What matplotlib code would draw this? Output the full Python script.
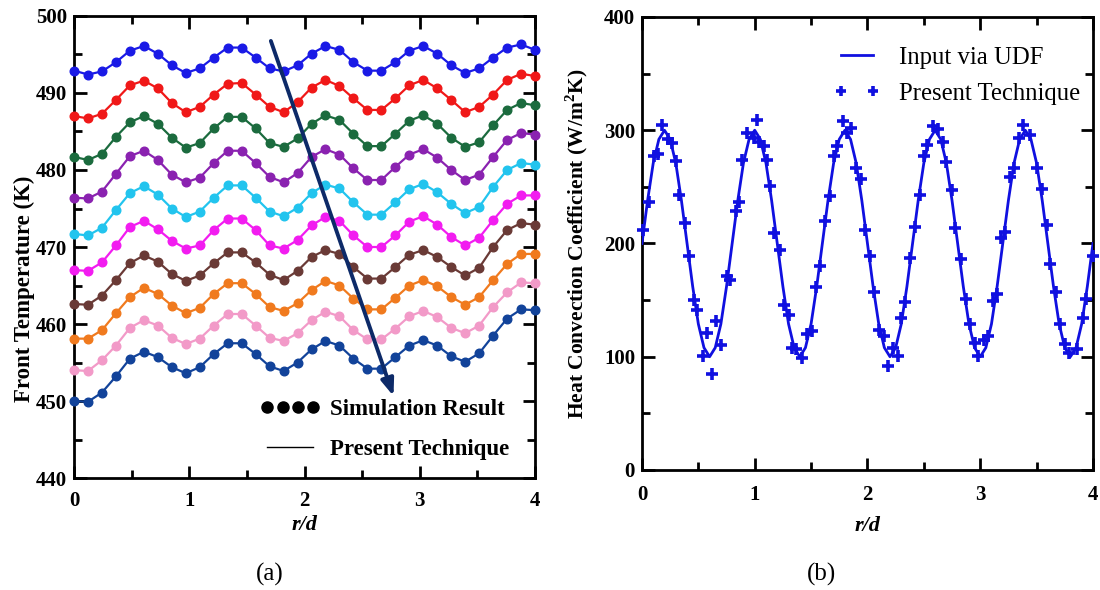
import numpy as np
import matplotlib
matplotlib.use("Agg")
import matplotlib.pyplot as plt
from matplotlib.lines import Line2D
from matplotlib.ticker import MultipleLocator

plt.rcParams["font.family"] = ["Liberation Serif", "DejaVu Serif"]
plt.rcParams["mathtext.fontset"] = "custom"
plt.rcParams["mathtext.rm"] = "Liberation Serif:bold"
plt.rcParams["mathtext.bf"] = "Liberation Serif:bold"

# ---------------- (a) front temperature profiles ----------------
r_sim = np.linspace(0, 4, 34)

temp_curves = [
    [492.9, 492.4, 492.8, 494.0, 495.5, 496.1, 495.1, 493.6, 492.6, 493.2, 494.6, 495.9, 495.9, 494.6, 493.2, 492.8, 493.6,
     495.1, 496.1, 495.6, 494.0, 492.9, 492.9, 494.0, 495.5, 496.1, 495.1, 493.6, 492.6, 493.2, 494.6, 495.9, 496.3, 495.6],
    [487.0, 486.7, 487.3, 489.1, 491.0, 491.6, 490.6, 488.7, 487.5, 488.2, 489.8, 491.2, 491.3, 489.8, 488.2, 487.5, 488.8,
     490.7, 491.7, 490.9, 489.3, 487.8, 487.8, 489.3, 491.0, 491.7, 490.6, 489.1, 487.5, 488.2, 489.8, 491.7, 492.5, 492.2],
    [481.7, 481.3, 482.1, 484.3, 486.2, 487.0, 486.0, 484.2, 482.9, 483.5, 485.4, 486.9, 486.9, 485.4, 483.5, 483.0, 484.1,
     486.0, 487.1, 486.5, 484.7, 483.1, 483.1, 484.7, 486.4, 487.1, 486.0, 484.2, 483.0, 483.6, 485.8, 487.8, 488.7, 488.4],
    [476.4, 476.3, 477.2, 479.5, 481.8, 482.5, 481.3, 479.4, 478.4, 479.0, 480.9, 482.5, 482.5, 480.9, 479.1, 478.4, 479.6,
     481.7, 482.7, 482.0, 480.2, 478.7, 478.7, 480.4, 482.0, 482.7, 481.6, 480.0, 478.7, 479.4, 481.7, 483.9, 484.8, 484.6],
    [471.7, 471.5, 472.5, 474.8, 477.0, 477.9, 476.8, 475.0, 473.9, 474.6, 476.4, 478.0, 478.0, 476.4, 474.6, 474.0, 475.1,
     477.0, 478.1, 477.6, 475.8, 474.2, 474.2, 475.8, 477.5, 478.2, 477.1, 475.6, 474.4, 475.2, 477.8, 480.0, 480.9, 480.7],
    [467.0, 466.9, 468.0, 470.2, 472.6, 473.4, 472.3, 470.8, 469.8, 470.2, 472.2, 473.7, 473.7, 472.2, 470.2, 469.8, 470.9,
     472.8, 473.9, 473.4, 471.5, 470.0, 470.0, 471.5, 473.3, 474.0, 472.9, 471.3, 470.2, 471.2, 473.5, 475.6, 476.7, 476.7],
    [462.6, 462.5, 463.7, 465.7, 467.9, 468.9, 468.1, 466.5, 465.6, 466.3, 467.9, 469.3, 469.3, 468.0, 466.4, 465.7, 466.9,
     468.7, 469.6, 469.1, 467.4, 465.9, 465.9, 467.4, 469.0, 469.6, 468.7, 467.4, 466.3, 467.3, 470.0, 472.2, 473.1, 472.9],
    [458.1, 458.1, 459.2, 461.4, 463.5, 464.7, 463.9, 462.4, 461.4, 462.1, 463.9, 465.3, 465.3, 463.9, 462.2, 461.7, 462.7,
     464.4, 465.6, 465.0, 463.3, 461.9, 461.9, 463.4, 465.0, 465.7, 464.9, 463.5, 462.5, 463.5, 465.7, 467.8, 469.1, 469.1],
    [454.0, 453.9, 455.3, 457.2, 459.5, 460.5, 459.8, 458.2, 457.4, 458.1, 459.8, 461.3, 461.3, 459.8, 458.2, 457.8, 458.8,
     460.5, 461.6, 461.0, 459.2, 458.0, 458.0, 459.4, 461.0, 461.7, 460.9, 459.5, 458.8, 459.8, 462.2, 464.1, 465.4, 465.3],
    [450.0, 449.9, 451.1, 453.2, 455.5, 456.4, 455.7, 454.4, 453.6, 454.4, 456.1, 457.5, 457.5, 456.1, 454.5, 453.9, 455.0,
     456.7, 457.8, 457.2, 455.5, 454.2, 454.2, 455.7, 457.2, 457.9, 457.2, 455.8, 455.1, 456.2, 458.5, 460.7, 461.9, 461.8],
]
curve_colors = ["#1a1ae6", "#f01818", "#1b6b3e", "#8a22b0", "#22c4ee",
                "#f21cf0", "#6a3a36", "#f07a1e", "#f29ac8", "#12439a"]

# ---------------- (b) heat convection coefficient ----------------
r_udf = np.linspace(0, 4, 81)
h_udf = [200, 238, 271, 292, 300, 292, 271, 238, 200, 162, 129, 108, 100, 108, 129, 162,
         200, 238, 271, 292, 300, 292, 271, 238, 200, 162, 129, 108, 100, 108, 129, 162,
         200, 238, 271, 292, 300, 292, 271, 238, 200, 162, 129, 108, 100, 108, 129, 162,
         200, 238, 271, 292, 300, 292, 271, 238, 200, 162, 129, 108, 100, 108, 129, 162,
         200, 238, 271, 292, 300, 292, 271, 238, 200, 162, 129, 108, 100, 108, 129, 162,
         200]

r_est = [0.01, 0.06, 0.11, 0.14, 0.18, 0.23, 0.27, 0.30, 0.33, 0.38, 0.42, 0.46, 0.49, 0.54, 0.58,
         0.62, 0.66, 0.70, 0.75, 0.78, 0.83, 0.86, 0.89, 0.93, 0.99, 1.02, 1.04, 1.08, 1.11, 1.14,
         1.17, 1.22, 1.26, 1.30, 1.33, 1.37, 1.42, 1.46, 1.51, 1.54, 1.58, 1.62, 1.67, 1.70, 1.73,
         1.78, 1.82, 1.85, 1.90, 1.94, 1.98, 2.02, 2.06, 2.10, 2.15, 2.18, 2.23, 2.27, 2.30, 2.33,
         2.38, 2.42, 2.47, 2.50, 2.53, 2.58, 2.63, 2.67, 2.70, 2.75, 2.78, 2.83, 2.87, 2.91, 2.95,
         2.98, 3.03, 3.07, 3.11, 3.15, 3.18, 3.22, 3.26, 3.30, 3.34, 3.38, 3.44, 3.50, 3.55, 3.59,
         3.62, 3.67, 3.71, 3.75, 3.79, 3.86, 3.91, 3.94, 4.00]
h_est = [212, 237, 277, 279, 305, 292, 289, 273, 243, 218, 189, 150, 141, 101, 121,
         85, 132, 110, 171, 168, 229, 237, 274, 298, 293, 309, 290, 286, 274, 251,
         209, 194, 146, 137, 108, 107, 99, 120, 123, 162, 180, 220, 242, 277, 286,
         308, 298, 302, 267, 257, 212, 189, 157, 124, 118, 92, 108, 101, 134, 148,
         187, 215, 243, 277, 287, 304, 301, 290, 272, 247, 214, 186, 151, 129, 112,
         101, 115, 118, 149, 155, 205, 210, 259, 267, 293, 305, 296, 267, 248, 216,
         182, 157, 129, 111, 103, 107, 134, 151, 189]

fig = plt.figure(figsize=(11, 5.9), dpi=100)
ax1 = fig.add_axes([0.0673, 0.1898, 0.4191, 0.7831])
ax2 = fig.add_axes([0.5836, 0.2034, 0.4100, 0.7678])


def style_axes(ax, pad):
    for s in ax.spines.values():
        s.set_linewidth(2)
    ax.tick_params(which="both", direction="in", top=True, right=True, width=2)
    ax.tick_params(axis="y", pad=5)
    ax.tick_params(axis="x", pad=pad)
    ax.tick_params(which="major", length=9)
    ax.tick_params(which="minor", length=6)
    for lab in ax.get_xticklabels() + ax.get_yticklabels():
        lab.set_fontsize(15)
        lab.set_fontweight("bold")


# panel (a)
for vals, col in zip(temp_curves, curve_colors):
    ax1.plot(r_sim, vals, "-", color=col, lw=1.6, marker="o", ms=6.2, mec=col, mfc=col, clip_on=False, zorder=3)

ax1.set_xlim(0, 4)
ax1.set_ylim(440, 500)
ax1.xaxis.set_major_locator(MultipleLocator(1))
ax1.xaxis.set_minor_locator(MultipleLocator(0.5))
ax1.yaxis.set_major_locator(MultipleLocator(10))
ax1.yaxis.set_minor_locator(MultipleLocator(5))
style_axes(ax1, pad=9)
ax1.set_xlabel("r/d", fontsize=16, fontweight="bold", style="italic", labelpad=3)
ax1.set_ylabel("Front Temperature (K)", fontsize=16.5, fontweight="bold")
ax1.yaxis.set_label_coords(-0.085, 0.41)

ax1.annotate("", xy=(2.78, 450.3), xytext=(1.70, 497.1),
             arrowprops=dict(arrowstyle="-|>,head_length=1.0,head_width=0.38", color="#0d2a68", lw=2.8),
             zorder=5)

h_sim = Line2D([], [], color="k", marker="o", ls="none", ms=8)
h_tech = Line2D([], [], color="k", lw=1.0)
ax1.legend([h_sim, h_tech], ["Simulation Result", "Present Technique"], loc="lower right",
           numpoints=4, handlelength=2.6, handletextpad=0.45, labelspacing=0.8, frameon=False,
           prop=dict(size=16.5, weight="bold"), bbox_to_anchor=(0.945, 0.04), borderaxespad=0,
           borderpad=0)

# panel (b)
ax2.plot(r_udf, h_udf, "-", color="#1010e0", lw=2.0, label="Input via UDF", zorder=3)
ax2.plot(r_est, h_est, ls="none", marker="+", ms=9, mew=2.6, color="#1010e0",
         label="Present Technique", clip_on=False, zorder=4)
ax2.set_xlim(0, 4)
ax2.set_ylim(0, 400)
ax2.xaxis.set_major_locator(MultipleLocator(1))
ax2.xaxis.set_minor_locator(MultipleLocator(0.5))
ax2.yaxis.set_major_locator(MultipleLocator(100))
ax2.yaxis.set_minor_locator(MultipleLocator(50))
style_axes(ax2, pad=11)
ax2.set_xlabel("r/d", fontsize=16, fontweight="bold", style="italic", labelpad=8)
ax2.set_ylabel("Heat Convection Coefficient (W/m$^\\mathbf{2}$K)", fontsize=15.5, fontweight="bold")
ax2.yaxis.set_label_coords(-0.115, 0.5)
leg2 = ax2.legend(loc="upper right", numpoints=2, handlelength=1.9, handletextpad=0.75, labelspacing=0.55,
                  frameon=False, prop=dict(size=17.8), bbox_to_anchor=(0.972, 0.935), borderaxespad=0,
                  borderpad=0)
for h in leg2.legend_handles:
    if h.get_marker() == "+":
        h.set_markersize(7)

fig.text(0.245, 0.016, "(a)", fontsize=18, ha="center")
fig.text(0.747, 0.016, "(b)", fontsize=18, ha="center")

fig.savefig("out.png", dpi=100)
